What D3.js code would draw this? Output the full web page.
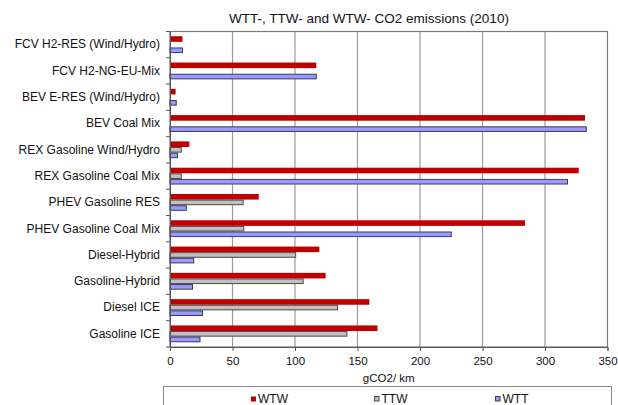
<!DOCTYPE html>
<html><head><meta charset="utf-8">
<script src="https://cdn.jsdelivr.net/npm/d3@7"></script>
<style>body{margin:0;background:#fff}svg{display:block;font-family:"Liberation Sans",Arial,sans-serif}</style>
</head><body><svg id="c" width="618" height="405"></svg>
<script>
const categories = ["FCV H2-RES (Wind/Hydro)","FCV H2-NG-EU-Mix","BEV E-RES (Wind/Hydro)","BEV Coal Mix","REX Gasoline Wind/Hydro","REX Gasoline Coal Mix","PHEV Gasoline RES","PHEV Gasoline Coal Mix","Diesel-Hybrid","Gasoline-Hybrid","Diesel ICE","Gasoline ICE"];
const seriesNames = ["WTW","TTW","WTT"];
const wtw = [10,117,4.5,332,15.5,327,71,284,119.5,124.5,159.5,166];
const ttw = [0,0,0,0,9,9,58.5,59,100.5,106.5,134,141.5];
const wtt = [10,117,5,333,6,318,13,225,19,18,26,24];
const xTicks = [0,50,100,150,200,250,300,350];
const title = "WTT-, TTW- and WTW- CO2 emissions (2010)";
const xLabel = "gCO2/ km";

const colors = {WTW:"#c00000",TTW:"#c0c0c0",WTT:"#9999ff"};
const strokes = {WTW:"none",TTW:"#4a4a4a",WTT:"#3a3a5a"};
const values = {WTW:wtw,TTW:ttw,WTT:wtt};

const svg = d3.select("#c");
const L=170,R=607.5,T=31.5,B=347;
const x = d3.scaleLinear().domain([0,350]).range([L,R]);
const y = d3.scaleBand().domain(categories).range([T,B]).paddingInner(0.36).paddingOuter(0.18);
const ys = d3.scaleBand().domain(seriesNames).range([0,y.bandwidth()]);

// title
svg.append("text").attr("x",369).attr("y",23).attr("text-anchor","middle").attr("font-size",13.5).attr("fill","#111").text(title);

// gridlines
svg.append("g").selectAll("line").data(xTicks.filter(d=>d>0&&d<350)).join("line")
  .attr("x1",d=>x(d)).attr("x2",d=>x(d)).attr("y1",T).attr("y2",B).attr("stroke","#9a9a9a").attr("stroke-width",1.2);

// plot border
svg.append("rect").attr("x",L).attr("y",T).attr("width",R-L).attr("height",B-T).attr("fill","none").attr("stroke","#7a7a7a").attr("stroke-width",1.2);

// bars
seriesNames.forEach(s=>{
  svg.append("g").selectAll("rect").data(categories.map((c,i)=>({c,v:values[s][i]})).filter(d=>d.v>0)).join("rect")
    .attr("x",x(0)).attr("y",d=>y(d.c)+ys(s)+(s==="WTW"?0:0.5)).attr("width",d=>x(d.v)-x(0))
    .attr("height",ys.bandwidth()-(s==="WTW"?0:1))
    .attr("fill",colors[s]).attr("stroke",strokes[s]).attr("stroke-width",1);
});

// left axis
const yAxis = d3.axisLeft(y).tickSize(0).tickPadding(10);
const gy = svg.append("g").attr("transform",`translate(${L},0)`).call(yAxis);
gy.select(".domain").attr("stroke","#555");
gy.selectAll("text").attr("font-size",12).attr("fill","#111").attr("font-family","Liberation Sans, Arial, sans-serif");
// boundary ticks
const bounds = categories.map(c=>y(c)-y.step()*y.paddingInner()/2).concat([B]);
svg.append("g").selectAll("line").data(bounds).join("line")
  .attr("x1",L-4).attr("x2",L).attr("y1",d=>d).attr("y2",d=>d).attr("stroke","#555");

// bottom axis
const xAxis = d3.axisBottom(x).tickValues(xTicks).tickSize(4).tickPadding(6);
const gx = svg.append("g").attr("transform",`translate(0,${B})`).call(xAxis);
gx.select(".domain").attr("stroke","#555");
gx.selectAll("line").attr("stroke","#555");
gx.selectAll("text").attr("font-size",11.5).attr("fill","#111").attr("font-family","Liberation Sans, Arial, sans-serif");

svg.append("text").attr("x",(L+R)/2).attr("y",382).attr("text-anchor","middle").attr("font-size",11.5).attr("fill","#111").text(xLabel);

// legend
svg.append("rect").attr("x",163.5).attr("y",386.5).attr("width",448).attr("height",30).attr("fill","#fff").attr("stroke","#888");
const legX = [250.5,374,495];
seriesNames.forEach((s,i)=>{
  const g = svg.append("g").attr("transform",`translate(${legX[i]},0)`);
  g.append("rect").attr("x",0.5).attr("y",396.5).attr("width",s==="WTW"?5:4.5).attr("height",s==="WTW"?5:4.5)
    .attr("fill",colors[s]).attr("stroke",s==="WTW"?"none":strokes[s]);
  g.append("text").attr("x",7.5).attr("y",402.5).attr("font-size",12).attr("fill","#111").text(s);
});
</script></body></html>
